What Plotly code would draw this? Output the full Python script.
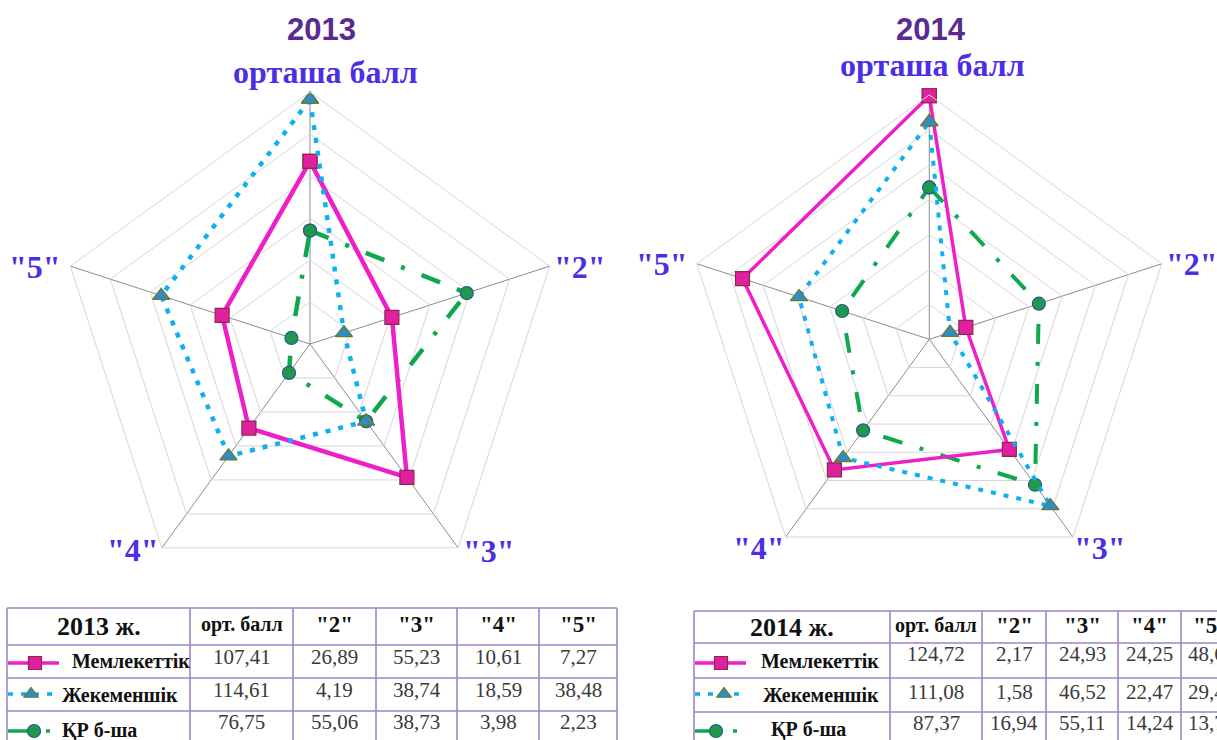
import math
import plotly.graph_objects as go

W, H = 1217, 740

# ---------------- data ----------------
categories = ["орташа балл", '"2"', '"3"', '"4"', '"5"']
series_names = ["Мемлекеттік", "Жекеменшік", "ҚР б-ша"]

# radar values (2013 radial scale 0-120, 2014 radial scale 0-140)
r2013_mem = [87, 41, 78.5, 49.5, 44]
r2013_jek = [116.5, 17, 45.5, 66, 74.5]
r2013_kr = [54, 78.5, 45.5, 17, 9.3]
r2014_mem = [139.5, 22, 78, 92.5, 112.5]
r2014_jek = [124.5, 12.5, 118, 84, 78.5]
r2014_kr = [87, 66, 103, 64.5, 52.5]

# table values
table_cols = ["орт. балл", '"2"', '"3"', '"4"', '"5"']
t2013_mem = [107.41, 26.89, 55.23, 10.61, 7.27]
t2013_jek = [114.61, 4.19, 38.74, 18.59, 38.48]
t2013_kr = [76.75, 55.06, 38.73, 3.98, 2.23]
t2014_mem = [124.72, 2.17, 24.93, 24.25, 48.65]
t2014_jek = [111.08, 1.58, 46.52, 22.47, 29.43]
t2014_kr = [87.37, 16.94, 55.11, 14.24, 13.71]

# ---------------- styles ----------------
LABEL_BLUE = "#4a2fe6"
TITLE_PURPLE = "#5a2a92"
BORDER = "#9c86c4"
SERIF = "Liberation Serif"

styles = {
    "Мемлекеттік": dict(color="#f01ec8", dash="solid", symbol="square",
                        mcolor="#e0209f", mline="#8b2a48"),
    "Жекеменшік": dict(color="#0db0f0", dash="5px,8px", symbol="triangle-up",
                       mcolor="#2f8cc4", mline="#6b7a2a"),
    "ҚР б-ша": dict(color="#10a84e", dash="20px,18px,4px,18px", symbol="circle",
                    mcolor="#1f9a4c", mline="#2b5a8a"),
}

fig = go.Figure()


def add_radar(values, name, subplot, width, msize):
    st = styles[name]
    fig.add_trace(go.Scatterpolar(
        r=values + values[:1], theta=categories + categories[:1],
        mode="lines+markers", name=name, subplot=subplot, showlegend=False,
        line=dict(color=st["color"], width=width, dash=st["dash"]),
        marker=dict(symbol=st["symbol"], size=msize, color=st["mcolor"],
                    line=dict(color=st["mline"], width=1.2)),
        cliponaxis=False,
    ))


add_radar(r2013_kr, "ҚР б-ша", "polar", 4.5, 13)
add_radar(r2013_mem, "Мемлекеттік", "polar", 4.5, 14)
add_radar(r2013_jek, "Жекеменшік", "polar", 4.5, 15)
add_radar(r2014_kr, "ҚР б-ша", "polar2", 4, 13)
add_radar(r2014_mem, "Мемлекеттік", "polar2", 3.5, 14)
add_radar(r2014_jek, "Жекеменшік", "polar2", 4, 15)


def polar_layout(cx, cy, R, rmax):
    return dict(
        domain=dict(x=[(cx - R) / W, (cx + R) / W], y=[(H - cy - R) / H, (H - cy + R) / H]),
        gridshape="linear",
        bgcolor="rgba(0,0,0,0)",
        radialaxis=dict(range=[0, rmax], dtick=20, showticklabels=False, ticks="",
                        showline=False, gridcolor="#d6d6d6", gridwidth=1),
        angularaxis=dict(type="category", categoryorder="array", categoryarray=categories,
                         rotation=90, direction="clockwise", gridcolor="#8c8c8c",
                         gridwidth=1, linecolor="#d6d6d6", showline=True, ticks="",
                         showticklabels=False),
    )


def px(x):
    return x / W


def py(y):
    return 1 - y / H


annotations = []
shapes = []


def text(x, y, s, size, color="#111", bold=False, family=SERIF, xanchor="center"):
    annotations.append(dict(xref="paper", yref="paper", x=px(x), y=py(y), text=s, showarrow=False,
                            xanchor=xanchor, yanchor="middle",
                            font=dict(family=family, size=size, color=color,
                                      weight="bold" if bold else "normal")))


# axis category labels placed just outside each pentagon vertex
charts = [
    dict(cx=310, cy=344, R=252, title="2013", title_xy=(321, 29),
         label_off=[(15, -20), (30, 1), (31, 3), (-29, 2), (-35, 1)]),
    dict(cx=929.3, cy=339.3, R=244.4, title="2014", title_xy=(931, 29),
         label_off=[(3, -30), (30, 0), (27, 11), (-27, 11), (-35, 0)]),
]
for ch in charts:
    for k, cat in enumerate(categories):
        ang = math.radians(90 - 72 * k)
        vx = ch["cx"] + ch["R"] * math.cos(ang)
        vy = ch["cy"] - ch["R"] * math.sin(ang)
        dx, dy = ch["label_off"][k]
        text(vx + dx, vy + dy, cat, 32, LABEL_BLUE, True)
    text(ch["title_xy"][0], ch["title_xy"][1], ch["title"], 31, TITLE_PURPLE, True, "Liberation Sans")

# ---------------- tables ----------------
tables = [
    dict(title="2013 ж.", cols=[7, 190, 293, 376, 457, 539, 617], rows=[608, 645, 678, 711, 746],
         data=[t2013_mem, t2013_jek, t2013_kr], label_x=[70, 60, 60],
         val_y=[657, 690, 722], lab_y=[661, 695, 730], sym_y=[663, 694, 731], sym_mx=[27, 23, 26]),
    dict(title="2014 ж.", cols=[694, 890, 982, 1046, 1118, 1181, 1242], rows=[611, 643, 678, 712, 746],
         data=[t2014_mem, t2014_jek, t2014_kr], label_x=[759, 761, 769],
         val_y=[654, 692, 723], lab_y=[661, 695, 729], sym_y=[663, 694, 731], sym_mx=[26, 29, 21]),
]

for tb in tables:
    cols, rows = tb["cols"], tb["rows"]
    for xv in cols:
        shapes.append(dict(type="line", xref="paper", yref="paper", x0=px(xv), x1=px(xv),
                           y0=py(rows[0]), y1=py(rows[-1]), line=dict(color=BORDER, width=1.6)))
    for yv in rows:
        shapes.append(dict(type="line", xref="paper", yref="paper", x0=px(cols[0]), x1=px(cols[-1]),
                           y0=py(yv), y1=py(yv), line=dict(color=BORDER, width=1.6)))
    hy = (rows[0] + rows[1]) / 2
    text((cols[0] + cols[1]) / 2, hy, tb["title"], 26, "#111", True)
    for j, c in enumerate(table_cols):
        text((cols[j + 1] + cols[j + 2]) / 2, hy - 2, c, 20 if j == 0 else 23, "#111", True)
    for i, name in enumerate(series_names):
        text(tb["label_x"][i], tb["lab_y"][i], name, 20, "#111", True, xanchor="left")
        for j, v in enumerate(tb["data"][i]):
            text((cols[j + 1] + cols[j + 2]) / 2, tb["val_y"][i], f"{v:.2f}".replace(".", ","),
                 21, "#3a3a3a")
        st = styles[name]
        x0 = cols[0] + 1
        fig.add_trace(go.Scatter(x=[x0, x0 + 51], y=[tb["sym_y"][i]] * 2, mode="lines", showlegend=False,
                                 line=dict(color=st["color"], width=3.5, dash=st["dash"]), hoverinfo="skip",
                                 cliponaxis=False))
        fig.add_trace(go.Scatter(x=[x0 + tb["sym_mx"][i]], y=[tb["sym_y"][i]], mode="markers",
                                 showlegend=False, hoverinfo="skip", cliponaxis=False,
                                 marker=dict(symbol=st["symbol"], size=13, color=st["mcolor"],
                                             line=dict(color=st["mline"], width=1.2))))

fig.update_layout(
    width=W, height=H, template="none",
    paper_bgcolor="white", plot_bgcolor="rgba(0,0,0,0)",
    margin=dict(l=0, r=0, t=0, b=0),
    polar=polar_layout(310, 344, 252, 120),
    polar2=polar_layout(929.3, 339.3, 244.4, 140),
    xaxis=dict(range=[0, W], domain=[0, 1], visible=False, fixedrange=True),
    yaxis=dict(range=[H, 0], domain=[0, 1], visible=False, fixedrange=True),
    shapes=shapes, annotations=annotations, showlegend=False,
)

fig.write_html("out.html", config={"displayModeBar": False},
               post_script="document.body.style.margin='0';document.body.style.overflow='hidden';")
